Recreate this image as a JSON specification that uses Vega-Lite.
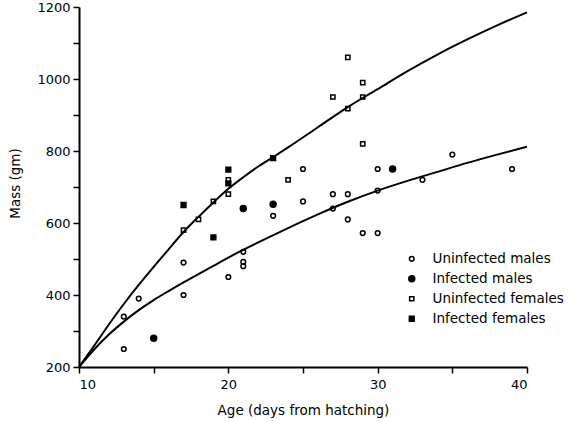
{
  "$schema": "https://vega.github.io/schema/vega-lite/v6.json",
  "autosize": {"type": "none"},
  "padding": {"left": 79, "top": 7, "right": 54, "bottom": 55},
  "width": 448,
  "height": 360,
  "background": "white",
  "config": {
    "view": {"stroke": null},
    "font": "DejaVu Sans",
    "axis": {
      "grid": false,
      "domainColor": "black",
      "domainWidth": 2,
      "tickColor": "black",
      "tickWidth": 1.5,
      "tickSize": 6,
      "labelColor": "black",
      "titleColor": "black",
      "labelFontSize": 13,
      "titleFontSize": 13.5,
      "titleFontWeight": "normal",
      "labelFont": "DejaVu Sans",
      "titleFont": "DejaVu Sans"
    },
    "legend": {"labelFont": "DejaVu Sans"}
  },
  "datasets": {
    "pts": [
      {"age": 13, "mass": 340, "group": "Uninfected males"},
      {"age": 13, "mass": 250, "group": "Uninfected males"},
      {"age": 14, "mass": 390, "group": "Uninfected males"},
      {"age": 17, "mass": 490, "group": "Uninfected males"},
      {"age": 17, "mass": 400, "group": "Uninfected males"},
      {"age": 20, "mass": 450, "group": "Uninfected males"},
      {"age": 21, "mass": 520, "group": "Uninfected males"},
      {"age": 21, "mass": 492, "group": "Uninfected males"},
      {"age": 21, "mass": 480, "group": "Uninfected males"},
      {"age": 23, "mass": 620, "group": "Uninfected males"},
      {"age": 25, "mass": 750, "group": "Uninfected males"},
      {"age": 25, "mass": 660, "group": "Uninfected males"},
      {"age": 27, "mass": 680, "group": "Uninfected males"},
      {"age": 27, "mass": 640, "group": "Uninfected males"},
      {"age": 28, "mass": 680, "group": "Uninfected males"},
      {"age": 28, "mass": 610, "group": "Uninfected males"},
      {"age": 29, "mass": 572, "group": "Uninfected males"},
      {"age": 30, "mass": 572, "group": "Uninfected males"},
      {"age": 30, "mass": 750, "group": "Uninfected males"},
      {"age": 30, "mass": 690, "group": "Uninfected males"},
      {"age": 33, "mass": 720, "group": "Uninfected males"},
      {"age": 35, "mass": 790, "group": "Uninfected males"},
      {"age": 39, "mass": 750, "group": "Uninfected males"},
      {"age": 15, "mass": 280, "group": "Infected males"},
      {"age": 21, "mass": 640, "group": "Infected males"},
      {"age": 23, "mass": 652, "group": "Infected males"},
      {"age": 31, "mass": 750, "group": "Infected males"},
      {"age": 17, "mass": 580, "group": "Uninfected females"},
      {"age": 18, "mass": 610, "group": "Uninfected females"},
      {"age": 19, "mass": 660, "group": "Uninfected females"},
      {"age": 20, "mass": 720, "group": "Uninfected females"},
      {"age": 20, "mass": 680, "group": "Uninfected females"},
      {"age": 24, "mass": 720, "group": "Uninfected females"},
      {"age": 27, "mass": 950, "group": "Uninfected females"},
      {"age": 28, "mass": 1060, "group": "Uninfected females"},
      {"age": 28, "mass": 918, "group": "Uninfected females"},
      {"age": 29, "mass": 990, "group": "Uninfected females"},
      {"age": 29, "mass": 950, "group": "Uninfected females"},
      {"age": 29, "mass": 820, "group": "Uninfected females"},
      {"age": 17, "mass": 650, "group": "Infected females"},
      {"age": 19, "mass": 560, "group": "Infected females"},
      {"age": 20, "mass": 748, "group": "Infected females"},
      {"age": 20, "mass": 710, "group": "Infected females"},
      {"age": 23, "mass": 780, "group": "Infected females"}
    ],
    "curves": [
      {"age": 10, "mass": 200, "curve": "upper"},
      {"age": 11, "mass": 258, "curve": "upper"},
      {"age": 12, "mass": 318, "curve": "upper"},
      {"age": 13, "mass": 375, "curve": "upper"},
      {"age": 14, "mass": 428, "curve": "upper"},
      {"age": 15, "mass": 478, "curve": "upper"},
      {"age": 16, "mass": 527, "curve": "upper"},
      {"age": 17, "mass": 575, "curve": "upper"},
      {"age": 18, "mass": 617, "curve": "upper"},
      {"age": 19, "mass": 657, "curve": "upper"},
      {"age": 20, "mass": 695, "curve": "upper"},
      {"age": 21, "mass": 727, "curve": "upper"},
      {"age": 22, "mass": 757, "curve": "upper"},
      {"age": 23, "mass": 783, "curve": "upper"},
      {"age": 24, "mass": 810, "curve": "upper"},
      {"age": 26, "mass": 866, "curve": "upper"},
      {"age": 28, "mass": 922, "curve": "upper"},
      {"age": 30, "mass": 972, "curve": "upper"},
      {"age": 32, "mass": 1022, "curve": "upper"},
      {"age": 34, "mass": 1068, "curve": "upper"},
      {"age": 36, "mass": 1110, "curve": "upper"},
      {"age": 38, "mass": 1149, "curve": "upper"},
      {"age": 40, "mass": 1185, "curve": "upper"},
      {"age": 10, "mass": 200, "curve": "lower"},
      {"age": 11, "mass": 248, "curve": "lower"},
      {"age": 12, "mass": 290, "curve": "lower"},
      {"age": 13, "mass": 326, "curve": "lower"},
      {"age": 14, "mass": 358, "curve": "lower"},
      {"age": 15, "mass": 386, "curve": "lower"},
      {"age": 16, "mass": 411, "curve": "lower"},
      {"age": 17, "mass": 435, "curve": "lower"},
      {"age": 18, "mass": 458, "curve": "lower"},
      {"age": 19, "mass": 481, "curve": "lower"},
      {"age": 20, "mass": 504, "curve": "lower"},
      {"age": 22, "mass": 546, "curve": "lower"},
      {"age": 24, "mass": 586, "curve": "lower"},
      {"age": 26, "mass": 624, "curve": "lower"},
      {"age": 28, "mass": 659, "curve": "lower"},
      {"age": 30, "mass": 690, "curve": "lower"},
      {"age": 32, "mass": 717, "curve": "lower"},
      {"age": 34, "mass": 742, "curve": "lower"},
      {"age": 36, "mass": 767, "curve": "lower"},
      {"age": 38, "mass": 790, "curve": "lower"},
      {"age": 40, "mass": 812, "curve": "lower"}
    ]
  },
  "encoding": {
    "x": {
      "field": "age", "type": "quantitative",
      "scale": {"domain": [10, 40], "nice": false, "zero": false},
      "axis": {
        "title": "Age (days from hatching)",
        "values": [10, 15, 20, 25, 30, 35, 40],
        "labelExpr": "datum.value % 10 === 0 ? datum.label : ''",
        "labelPadding": 5,
        "titlePadding": 12
      }
    },
    "y": {
      "field": "mass", "type": "quantitative",
      "scale": {"domain": [200, 1200], "nice": false, "zero": false},
      "axis": {
        "title": "Mass (gm)",
        "values": [200, 300, 400, 500, 600, 700, 800, 900, 1000, 1100, 1200],
        "labelExpr": "datum.value % 200 === 0 ? datum.value : ''",
        "labelPadding": 3,
        "titleX": -57,
        "titleY": 176
      }
    }
  },
  "layer": [
    {
      "data": {"name": "curves"},
      "mark": {"type": "line", "color": "black", "strokeWidth": 2, "interpolate": "monotone"},
      "encoding": {"detail": {"field": "curve"}}
    },
    {
      "data": {"name": "pts"},
      "mark": {"type": "point", "stroke": "black", "strokeWidth": 1.5, "opacity": 1},
      "encoding": {
        "shape": {
          "field": "group", "type": "nominal",
          "scale": {
            "domain": ["Uninfected males", "Infected males", "Uninfected females", "Infected females"],
            "range": ["circle", "circle", "M-0.6,-0.6H0.6V0.6H-0.6Z", "M-0.6,-0.6H0.6V0.6H-0.6Z"]
          },
          "legend": {
            "title": null,
            "orient": "none",
            "legendX": 326,
            "legendY": 245,
            "labelFontSize": 13.5,
            "labelColor": "black",
            "rowPadding": 5,
            "labelOffset": 14,
            "encode": {"symbols": {"update": {"stroke": {"value": "black"}, "strokeWidth": {"value": 1.5}}}}
          }
        },
        "fill": {
          "field": "group", "type": "nominal",
          "scale": {
            "domain": ["Uninfected males", "Infected males", "Uninfected females", "Infected females"],
            "range": ["transparent", "black", "transparent", "black"]
          },
          "legend": {
            "title": null,
            "orient": "none",
            "legendX": 326,
            "legendY": 245,
            "labelFontSize": 13.5,
            "labelColor": "black",
            "rowPadding": 5,
            "labelOffset": 14,
            "encode": {"symbols": {"update": {"stroke": {"value": "black"}, "strokeWidth": {"value": 1.5}}}}
          }
        },
        "size": {
          "field": "group", "type": "nominal",
          "scale": {
            "domain": ["Uninfected males", "Infected males", "Uninfected females", "Infected females"],
            "range": [22, 64, 95, 240]
          },
          "legend": {
            "title": null,
            "orient": "none",
            "legendX": 326,
            "legendY": 245,
            "labelFontSize": 13.5,
            "labelColor": "black",
            "rowPadding": 5,
            "labelOffset": 14,
            "encode": {"symbols": {"update": {"stroke": {"value": "black"}, "strokeWidth": {"value": 1.5}}}}
          }
        }
      }
    }
  ]
}
